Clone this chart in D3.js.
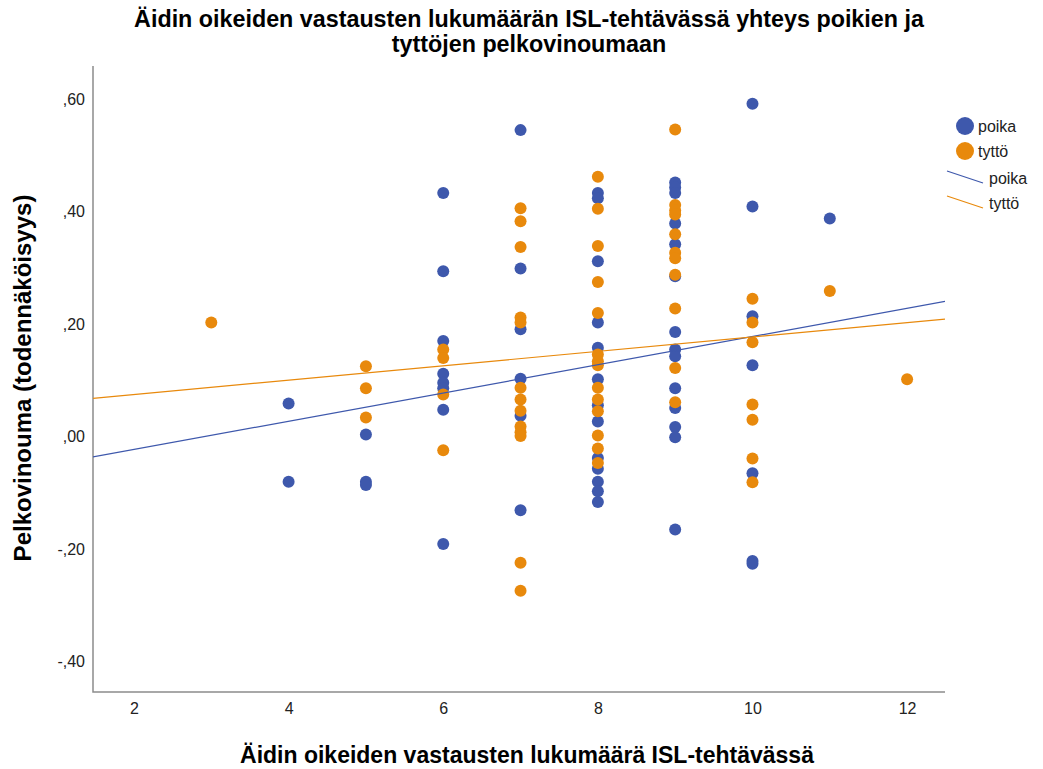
<!DOCTYPE html>
<html>
<head>
<meta charset="utf-8">
<script src="https://cdn.jsdelivr.net/npm/d3@7"></script>
<style>
  html, body { margin: 0; padding: 0; background: #fff; }
  svg text { font-family: "Liberation Sans", Arial, sans-serif; }
</style>
</head>
<body>
<svg id="chart" width="1043" height="769"></svg>
<script>
// ---- data ----
const titleLines = ["Äidin oikeiden vastausten lukumäärän ISL-tehtävässä yhteys poikien ja", "tyttöjen pelkovinoumaan"];
const xLabel = "Äidin oikeiden vastausten lukumäärä ISL-tehtävässä";
const yLabel = "Pelkovinouma (todennäköisyys)";
const seriesNames = ["poika", "tyttö"];
const xTicks = [2, 4, 6, 8, 10, 12];
const yTicks = [-0.4, -0.2, 0.0, 0.2, 0.4, 0.6];

const poikaX = [4, 4,
  5, 5, 5,
  6, 6, 6, 6, 6, 6, 6, 6,
  7, 7, 7, 7, 7, 7,
  8, 8, 8, 8, 8, 8, 8, 8, 8, 8, 8, 8, 8,
  9, 9, 9, 9, 9, 9, 9, 9, 9, 9, 9, 9, 9, 9,
  10, 10, 10, 10, 10, 10, 10,
  11];
const poikaY = [0.059, -0.080,
  0.004, -0.080, -0.086,
  0.433, 0.294, 0.170, 0.112, 0.096, 0.086, 0.048, -0.191,
  0.545, 0.299, 0.191, 0.103, 0.037, -0.131,
  0.433, 0.424, 0.312, 0.203, 0.158, 0.102, 0.056, 0.027, -0.038, -0.057, -0.080, -0.097, -0.116,
  0.452, 0.443, 0.433, 0.379, 0.342, 0.285, 0.186, 0.155, 0.143, 0.086, 0.051, 0.017, -0.001, -0.165,
  0.592, 0.409, 0.214, 0.127, -0.065, -0.221, -0.226,
  0.388];

const tyttoX = [3,
  5, 5, 5,
  6, 6, 6, 6,
  7, 7, 7, 7, 7, 7, 7, 7, 7, 7, 7, 7, 7,
  8, 8, 8, 8, 8, 8, 8, 8, 8, 8, 8, 8, 8, 8,
  9, 9, 9, 9, 9, 9, 9, 9, 9, 9, 9,
  10, 10, 10, 10, 10, 10, 10,
  11, 12];
const tyttoY = [0.203,
  0.125, 0.086, 0.034,
  0.155, 0.140, 0.075, -0.024,
  0.406, 0.383, 0.337, 0.212, 0.203, 0.087, 0.066, 0.046, 0.018, 0.008, 0.001, -0.224, -0.274,
  0.462, 0.405, 0.339, 0.275, 0.220, 0.146, 0.134, 0.127, 0.087, 0.066, 0.045, 0.002, -0.021, -0.047,
  0.546, 0.412, 0.402, 0.395, 0.360, 0.327, 0.317, 0.288, 0.228, 0.122, 0.061,
  0.245, 0.203, 0.168, 0.057, 0.030, -0.039, -0.081,
  0.259, 0.102];

// linear fit lines (intercept, slope)
const fitIntercept = [-0.073, 0.0492];
const fitSlope = [0.0251, 0.0128];

const colors = ["#3e58ac", "#e8890c"];

// ---- layout ----
const svg = d3.select("#chart");
const plot = { left: 93, right: 945, top: 66, bottom: 692 };
const xDomain = [1.47, 12.49];
const yDomain = [-0.454, 0.659];

const x = d3.scaleLinear().domain(xDomain).range([plot.left, plot.right]);
const y = d3.scaleLinear().domain(yDomain).range([plot.bottom, plot.top]);

const fmtY = v => {
  const s = d3.format(".2f")(Math.abs(v)).replace("0.", ",");
  return (v < -1e-9 ? "-" : "") + s;
};

// title
svg.append("g").selectAll("text").data(titleLines).join("text")
  .attr("x", 529).attr("y", (d, i) => 27 + i * 25)
  .attr("text-anchor", "middle")
  .attr("font-size", 23.3).attr("font-weight", "bold").attr("fill", "#000")
  .text(d => d);

// clip
svg.append("clipPath").attr("id", "clip").append("rect")
  .attr("x", plot.left).attr("y", plot.top)
  .attr("width", plot.right - plot.left).attr("height", plot.bottom - plot.top);

// axes
const xAxis = d3.axisBottom(x).tickValues(xTicks).tickSize(0).tickPadding(11).tickFormat(d3.format("d"));
const gx = svg.append("g").attr("transform", `translate(0,${plot.bottom})`).call(xAxis);
gx.select(".domain").remove();
gx.selectAll("text").attr("font-size", 16).attr("fill", "#222").attr("font-family", "Liberation Sans, Arial, sans-serif");

const yAxis = d3.axisLeft(y).tickValues(yTicks).tickSize(0).tickPadding(8).tickFormat(fmtY);
const gy = svg.append("g").attr("transform", `translate(${plot.left},0)`).call(yAxis);
gy.select(".domain").remove();
gy.selectAll("text").attr("font-size", 16).attr("fill", "#222").attr("font-family", "Liberation Sans, Arial, sans-serif");

svg.append("path")
  .attr("d", `M${plot.left},${plot.top}V${plot.bottom}H${plot.right}`)
  .attr("fill", "none").attr("stroke", "#8c8c8c").attr("stroke-width", 1.5);

// axis labels
svg.append("text").attr("x", 527).attr("y", 763)
  .attr("text-anchor", "middle").attr("font-size", 23).attr("font-weight", "bold")
  .text(xLabel);
svg.append("text").attr("transform", "translate(31,378) rotate(-90)")
  .attr("text-anchor", "middle").attr("font-size", 24).attr("font-weight", "bold")
  .text(yLabel);

// points
const pts = svg.append("g").attr("clip-path", "url(#clip)");
const seriesX = [poikaX, tyttoX];
const seriesY = [poikaY, tyttoY];
[0, 1].forEach(s => {
  pts.append("g").selectAll("circle").data(d3.range(seriesX[s].length)).join("circle")
    .attr("cx", i => x(seriesX[s][i]))
    .attr("cy", i => y(seriesY[s][i]))
    .attr("r", 6)
    .attr("fill", colors[s]);
});

// fit lines
const line = d3.line().x(d => x(d[0])).y(d => y(d[1]));
[0, 1].forEach(s => {
  const data = xDomain.map(v => [v, fitIntercept[s] + fitSlope[s] * v]);
  pts.append("path").attr("d", line(data))
    .attr("fill", "none").attr("stroke", colors[s]).attr("stroke-width", 1.2);
});

// legend
const lg = svg.append("g");
seriesNames.forEach((n, i) => {
  lg.append("circle").attr("cx", 965).attr("cy", 126 + i * 25).attr("r", 9).attr("fill", colors[i]);
  lg.append("text").attr("x", 978).attr("y", 132 + i * 25).attr("font-size", 16).attr("fill", "#222").text(n);
});
seriesNames.forEach((n, i) => {
  const cy = 178 + i * 25;
  lg.append("line").attr("x1", 947).attr("y1", cy - 7).attr("x2", 983).attr("y2", cy + 5)
    .attr("stroke", colors[i]).attr("stroke-width", 1.2);
  lg.append("text").attr("x", 989).attr("y", cy + 6).attr("font-size", 16).attr("fill", "#222").text(n);
});
</script>
</body>
</html>
